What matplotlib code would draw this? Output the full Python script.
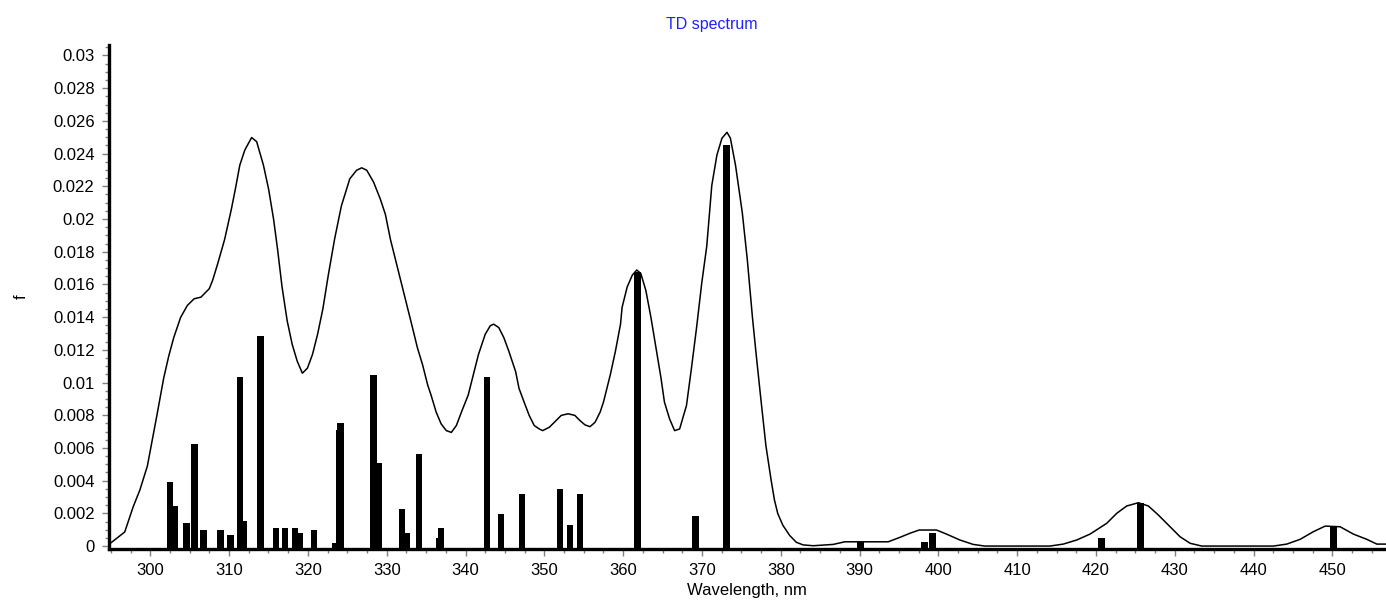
import numpy as np
import matplotlib
matplotlib.use('Agg')
import matplotlib.pyplot as plt
from matplotlib.ticker import MultipleLocator, FuncFormatter

plt.rcParams['font.family'] = ['Liberation Sans', 'DejaVu Sans']

# oscillator strengths (sticks)
stick_nm = [302.50, 303.11, 304.63, 305.65, 306.79, 308.95, 310.22, 311.37, 311.87, 314.03,
            315.94, 317.08, 318.35, 318.98, 320.76, 323.43, 323.95, 324.10, 328.36, 329.00,
            331.94, 332.57, 334.10, 336.63, 336.89, 342.73, 344.51, 347.17, 352.00, 353.27,
            354.54, 361.78, 369.14, 373.08, 390.10, 398.22, 399.24, 420.70, 425.65, 450.16]
stick_f = [0.0039, 0.00245, 0.0014, 0.00624, 0.00098, 0.00098, 0.00067, 0.01032, 0.00153, 0.01284,
           0.0011, 0.0011, 0.0011, 0.0008, 0.00098, 0.0002, 0.0071, 0.0075, 0.01045, 0.00508,
           0.00226, 0.0008, 0.00563, 0.0005, 0.0011, 0.01032, 0.00196, 0.00318, 0.00349, 0.00128,
           0.00318, 0.01678, 0.00183, 0.02453, 0.00023, 0.00023, 0.00078, 0.00049, 0.00263, 0.00122]

# envelope
env_nm = [294.83, 296.76, 297.83, 298.69, 299.63, 300.84, 301.70, 302.34, 302.98, 303.85,
          304.70, 305.56, 306.43, 307.49, 307.92, 308.57, 309.43, 310.29, 310.80, 311.36,
          312.00, 312.86, 313.50, 314.36, 315.01, 315.65, 316.16, 316.72, 317.37, 318.01,
          318.65, 319.30, 319.94, 320.58, 321.23, 321.90, 322.60, 323.40, 324.25, 325.32,
          326.18, 326.83, 327.47, 328.33, 329.19, 329.83, 330.48, 331.34, 332.41, 333.27,
          333.90, 334.55, 335.20, 335.63, 336.27, 336.91, 337.56, 338.20, 338.84, 339.49,
          340.34, 340.99, 341.64, 342.50, 343.14, 343.57, 344.22, 344.86, 345.50, 346.36,
          346.79, 347.43, 348.08, 348.72, 349.36, 349.79, 350.65, 351.50, 352.15, 353.02,
          353.87, 354.51, 355.16, 355.80, 356.44, 357.09, 357.51, 358.37, 359.02, 359.67,
          359.87, 360.52, 361.17, 361.73, 362.24, 362.88, 363.53, 364.17, 364.81, 365.24,
          365.89, 366.53, 367.17, 368.04, 368.67, 369.32, 369.97, 370.61, 370.82, 371.25,
          371.90, 372.54, 373.18, 373.61, 374.26, 375.12, 375.76, 376.41, 376.84, 377.47,
          378.12, 378.77, 379.20, 379.62, 380.27, 381.13, 381.98, 382.84, 384.13, 386.65,
          388.13, 393.63, 395.11, 396.38, 397.56, 399.77, 401.04, 402.73, 404.42, 405.90,
          414.16, 415.85, 417.55, 419.24, 421.36, 422.63, 423.90, 425.38, 426.65, 427.91,
          429.40, 430.67, 431.94, 433.42, 442.52, 444.21, 445.90, 447.59, 449.08, 450.98,
          452.67, 454.37, 455.64, 456.82]
env_f = [0.00013, 0.00086, 0.0024, 0.00344, 0.00489, 0.00799, 0.01026, 0.01161, 0.01275, 0.01398,
         0.01471, 0.01512, 0.01522, 0.01574, 0.01626, 0.01729, 0.01874, 0.0206, 0.02184, 0.02329,
         0.02422, 0.02498, 0.02473, 0.02329, 0.02184, 0.01998, 0.01812, 0.01585, 0.01378, 0.01233,
         0.0113, 0.01057, 0.01088, 0.01171, 0.01295, 0.0145, 0.0166, 0.0188, 0.0208, 0.02246,
         0.02298, 0.02313, 0.02298, 0.02226, 0.02122, 0.02029, 0.01874, 0.01709, 0.01501, 0.01336,
         0.01212, 0.01109, 0.00985, 0.00923, 0.0082, 0.00747, 0.00706, 0.00695, 0.00737, 0.0082,
         0.00923, 0.01047, 0.01171, 0.01295, 0.01347, 0.01357, 0.01336, 0.01275, 0.01191, 0.01067,
         0.00964, 0.00881, 0.00799, 0.00737, 0.00716, 0.00706, 0.00727, 0.00768, 0.00799, 0.00809,
         0.00799, 0.00768, 0.00741, 0.0073, 0.00757, 0.0082, 0.00881, 0.01047, 0.01191, 0.01357,
         0.0146, 0.01585, 0.01657, 0.01688, 0.01667, 0.01564, 0.01398, 0.01212, 0.01026, 0.00881,
         0.00778, 0.00706, 0.00716, 0.0086, 0.01088, 0.01336, 0.01606, 0.01833, 0.01957, 0.02205,
         0.02391, 0.02494, 0.0253, 0.02494, 0.02329, 0.02039, 0.0175, 0.01398, 0.01191, 0.00902,
         0.00613, 0.00406, 0.00282, 0.00199, 0.00127, 0.00065, 0.00023, 0.00007, 0.00002, 0.0001,
         0.00026, 0.00026, 0.00053, 0.00078, 0.00098, 0.00098, 0.00073, 0.00037, 0.0001, 0.0,
         0.0, 0.00012, 0.00037, 0.00073, 0.00139, 0.002, 0.00245, 0.00265, 0.00245, 0.0019,
         0.00118, 0.00057, 0.00017, 0.0, 0.0, 0.00012, 0.00041, 0.00088, 0.00122, 0.00118,
         0.00073, 0.00041, 0.00012, 0.00012]

x_lim = (294.7, 456.8)
y_lim = (-0.00018, 0.03064)

fig = plt.figure(figsize=(13.86, 6.06), dpi=100)
ax = fig.add_axes([108.5/1386, 57/606, 1 - 108.5/1386, 504/606])

ax.bar(stick_nm, np.array(stick_f) - y_lim[0], bottom=y_lim[0], width=0.85,
       color='black', linewidth=0, zorder=2)
ax.plot(env_nm, env_f, color='black', linewidth=1.1, zorder=3)

ax.set_xlim(*x_lim)
ax.set_ylim(*y_lim)

for s in ['top', 'right']:
    ax.spines[s].set_visible(False)
for s in ['left', 'bottom']:
    ax.spines[s].set_linewidth(2.4)
    ax.spines[s].set_color('black')

ax.xaxis.set_major_locator(MultipleLocator(10))
ax.xaxis.set_minor_locator(MultipleLocator(2.5))
ax.yaxis.set_major_locator(MultipleLocator(0.002))
ax.yaxis.set_minor_locator(MultipleLocator(0.0005))
ax.yaxis.set_major_formatter(FuncFormatter(lambda v, p: '%g' % round(v, 4)))

ax.tick_params(which='major', length=5, width=1, color='#808080', labelsize=12, pad=5)
ax.tick_params(which='minor', length=3, width=1, color='#808080')

ax.set_xlabel('Wavelength, nm', fontsize=12, labelpad=4)
ax.set_ylabel('f', fontsize=12, va='center')
ax.yaxis.set_label_coords(-(108.5 - 21) / (1386 - 108.5), 0.5)

fig.text(712/1386, 1 - 25/606, 'TD spectrum', color='#2020ff', fontsize=11.5,
         ha='center', va='center')

fig.savefig('out.png', dpi=100)
